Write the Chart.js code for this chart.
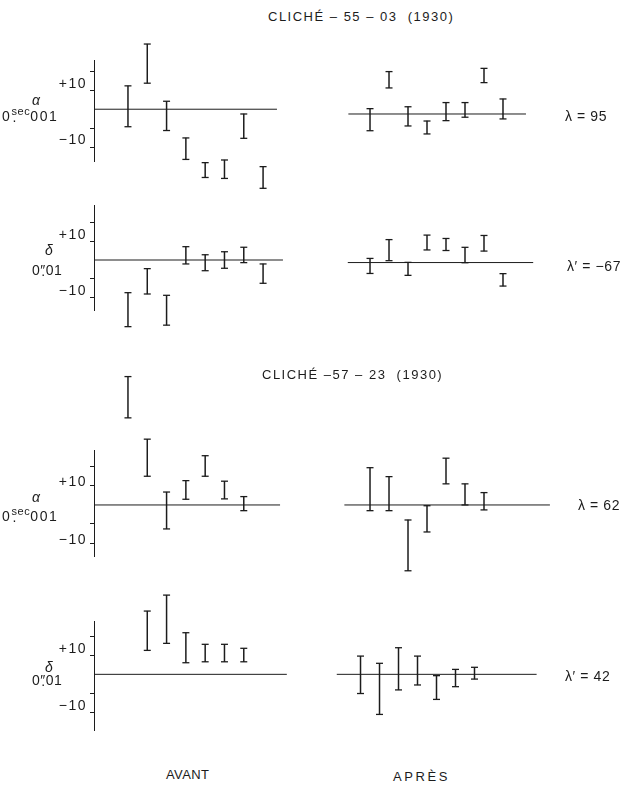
<!DOCTYPE html>
<html>
<head>
<meta charset="utf-8">
<script src="https://cdn.jsdelivr.net/npm/chart.js@4.4.0/dist/chart.umd.min.js"></script>
<style>
body { margin: 0; background: #fff; }
#page { position: relative; width: 624px; height: 786px; overflow: hidden; font-family: "Liberation Sans", Arial, sans-serif; color: #1c1c1c; }
#page canvas { position: absolute; left: 0; }
.t { position: absolute; white-space: nowrap; transform: translateY(-50%); font-size: 14px; line-height: 1; }
.title { font-size: 13px; letter-spacing: 1.5px; }
.tick { font-size: 14px; letter-spacing: 1.5px; text-align: right; width: 44px; }
.lab { font-size: 14px; letter-spacing: 1.6px; }
.lam { font-size: 14px; letter-spacing: 0.6px; }
.greek { font-size: 14px; font-style: italic; }
.dec { position: relative; display: inline-block; }
.up { font-size: 11px; letter-spacing: 0.6px; position: relative; top: -6px; }
.dot { position: absolute; left: 1px; top: 1px; }
</style>
</head>
<body>
<div id="page">
  <canvas id="c1" width="624" height="175" style="top:25px"></canvas>
  <canvas id="c2" width="624" height="150" style="top:200px"></canvas>
  <canvas id="c3" width="624" height="230" style="top:360px"></canvas>
  <canvas id="c4" width="624" height="150" style="top:590px"></canvas>

  <div class="t title" style="left:268px;top:16px">CLICHÉ – 55 – 03 &nbsp;(1930)</div>
  <div class="t title" style="left:262px;top:374px">CLICHÉ –57 – 23 &nbsp;(1930)</div>

  <div class="t tick" style="left:43px;top:83px">+10</div>
  <div class="t tick" style="left:43px;top:139px">−10</div>
  <div class="t greek" style="left:32px;top:100px">α</div>
  <div class="t lab" style="left:2px;top:116px">0<span class="dec"><span class="up">sec</span><span class="dot">.</span></span>001</div>

  <div class="t tick" style="left:43px;top:234px">+10</div>
  <div class="t tick" style="left:43px;top:290px">−10</div>
  <div class="t greek" style="left:45px;top:250px">δ</div>
  <div class="t lab" style="left:32px;top:270px;letter-spacing:0.5px">0<span class="dec">″<span class="dot">.</span></span>01</div>

  <div class="t tick" style="left:43px;top:481px">+10</div>
  <div class="t tick" style="left:43px;top:539px">−10</div>
  <div class="t greek" style="left:32px;top:497px">α</div>
  <div class="t lab" style="left:2px;top:516px">0<span class="dec"><span class="up">sec</span><span class="dot">.</span></span>001</div>

  <div class="t tick" style="left:43px;top:648px">+10</div>
  <div class="t tick" style="left:43px;top:705px">−10</div>
  <div class="t greek" style="left:45px;top:667px">δ</div>
  <div class="t lab" style="left:32px;top:680px;letter-spacing:0.5px">0<span class="dec">″<span class="dot">.</span></span>01</div>

  <div class="t lam" style="left:565px;top:116px">λ = 95</div>
  <div class="t lam" style="left:567px;top:266px">λ′ = −67</div>
  <div class="t lam" style="left:578px;top:505px">λ = 62</div>
  <div class="t lam" style="left:565px;top:676px">λ′ = 42</div>

  <div class="t" style="left:166px;top:774px;font-size:13px;letter-spacing:0.4px">AVANT</div>
  <div class="t" style="left:393px;top:776px;font-size:13px;letter-spacing:2.6px">APRÈS</div>
</div>

<script>
// slot number of each plate along the axis
var slots8 = [1, 2, 3, 4, 5, 6, 7, 8];
var slots7 = [1, 2, 3, 4, 5, 6, 7];
var slots2to7 = [2, 3, 4, 5, 6, 7];

// tick marks on the left axis
var yTicks = [-20, -10, 10, 20];

// cliche 55-03, alpha in 0.001 sec
var alpha5503AvantHi = [12.3, 34.3, 4.2, -15.1, -28.1, -26.7, -2.5, -30.2];
var alpha5503AvantLo = [-9.2, 13.7, -11.2, -26.4, -35.9, -36.4, -15.3, -41.6];
var alpha5503ApresHi = [2.8, 22.3, 3.8, -3.7, 6.0, 6.0, 24.0, 7.9];
var alpha5503ApresLo = [-8.8, 13.7, -6.3, -10.5, -3.5, -1.7, 16.5, -2.6];

// cliche 55-03, delta in 0.01"
var delta5503AvantHi = [-17.4, -4.6, -18.8, 7.1, 2.8, 4.4, 6.8, -2.1];
var delta5503AvantLo = [-35.5, -18.1, -34.7, -2.1, -5.7, -4.4, -1.4, -12.4];
var delta5503ApresHi = [2.2, 12.2, 0.1, 14.6, 12.8, 8.1, 14.4, -5.9];
var delta5503ApresLo = [-5.8, 1.0, -6.8, 6.7, 6.4, -0.1, 6.1, -12.5];

// cliche 57-23, alpha
var alpha5723AvantHi = [67.5, 34.6, 6.8, 12.8, 25.9, 12.5, 4.4];
var alpha5723AvantLo = [45.8, 15.1, -12.6, 3.0, 15.1, 3.2, -3.0];
var alpha5723ApresHi = [19.6, 14.9, -7.9, -0.4, 24.6, 11.1, 6.5];
var alpha5723ApresLo = [-3.0, -3.0, -34.6, -14.2, 11.1, 0.0, -2.6];

// cliche 57-23, delta
var delta5723AvantHi = [33.3, 41.7, 21.9, 15.8, 15.8, 13.7];
var delta5723AvantLo = [12.6, 16.3, 6.1, 6.6, 6.6, 6.6];
var delta5723ApresHi = [9.6, 5.8, 14.0, 9.6, -0.7, 2.6, 3.7];
var delta5723ApresLo = [-10.1, -21.1, -8.2, -5.6, -13.2, -6.5, -2.5];

var ink = '#1c1c1c';
var capHalf = 0.34;   // half height of the end caps, in axis units

function errorBars(slots, hi, lo, xId, yId)
{
    var bars = slots.map(function(s, i)
    {
        return { x: s, y: [lo[i], hi[i]] };
    });

    //little flat bars at both ends make the caps
    var caps = [];
    slots.forEach(function(s, i)
    {
        caps.push({ x: s, y: [hi[i] - capHalf, hi[i] + capHalf] });
        caps.push({ x: s, y: [lo[i] - capHalf, lo[i] + capHalf] });
    });

    return [
        {
            type: 'bar',
            data: bars,
            xAxisID: xId,
            yAxisID: yId,
            backgroundColor: ink,
            barThickness: 1.2,
            inflateAmount: 0.15,
            grouped: false,
            clip: false
        },
        {
            type: 'bar',
            data: caps,
            xAxisID: xId,
            yAxisID: yId,
            backgroundColor: ink,
            barThickness: 7,
            inflateAmount: 0,
            grouped: false,
            clip: false
        }
    ];
}

function zeroLine(from, to, xId, yId)
{
    return {
        type: 'line',
        data: [{ x: from, y: 0 }, { x: to, y: 0 }],
        xAxisID: xId,
        yAxisID: yId,
        borderColor: ink,
        borderWidth: 1,
        pointRadius: 0,
        clip: false
    };
}

function drawPanel(p)
{
    var ctx = document.getElementById(p.canvas).getContext('2d');

    var datasets = [
        zeroLine(-0.76, p.avantEnd, 'xa', 'y'),
        zeroLine(p.apresLine[0], p.apresLine[1], 'xp', 'yp')
    ];
    datasets = datasets.concat(errorBars(p.avantSlots, p.avantHi, p.avantLo, 'xa', 'y'));
    datasets = datasets.concat(errorBars(p.apresSlots, p.apresHi, p.apresLo, 'xp', 'yp'));

    new Chart(ctx,
    {
        type: 'bar',
        data: { datasets: datasets },
        options:
        {
            responsive: false,
            animation: false,
            layout: { padding: { top: p.padTop, bottom: p.padBottom, left: 0, right: 0 } },
            plugins:
            {
                legend: { display: false },
                tooltip: { enabled: false }
            },
            scales:
            {
                xa: { type: 'linear', display: false, offset: false, min: -0.76, max: 26.7 },
                xp: { type: 'linear', display: false, offset: false, min: p.apresMin, max: p.apresMin + 27.9 },
                y:
                {
                    type: 'linear',
                    position: 'left',
                    min: p.yMin,
                    max: p.yMax,
                    afterBuildTicks: function(scale)
                    {
                        scale.ticks = yTicks.map(function(v) { return { value: v }; });
                    },
                    afterFit: function(scale)
                    {
                        scale.width = 94;
                    },
                    ticks: { display: false },
                    grid: { drawOnChartArea: false, drawTicks: true, tickLength: 4, color: ink, lineWidth: 1 },
                    border: { display: true, color: ink, width: 1 }
                },
                yp: { type: 'linear', display: false, min: p.pMin, max: p.pMax }
            }
        }
    });
}

window.onload = function()
{
    drawPanel({
        canvas: 'c1', padTop: 35, padBottom: 38.3,
        yMin: -27.6, yMax: 25.9, pMin: -25.1, pMax: 28.4,
        apresMin: -13.53, avantEnd: 8.72, apresLine: [-0.14, 9.21],
        avantSlots: slots8, avantHi: alpha5503AvantHi, avantLo: alpha5503AvantLo,
        apresSlots: slots8, apresHi: alpha5503ApresHi, apresLo: alpha5503ApresLo
    });

    drawPanel({
        canvas: 'c2', padTop: 5, padBottom: 39.3,
        yMin: -27.0, yMax: 29.3, pMin: -25.6, pMax: 30.6,
        apresMin: -13.53, avantEnd: 9.03, apresLine: [-0.17, 9.59],
        avantSlots: slots8, avantHi: delta5503AvantHi, avantLo: delta5503AvantLo,
        apresSlots: slots8, apresHi: delta5503ApresHi, apresLo: delta5503ApresLo
    });

    drawPanel({
        canvas: 'c3', padTop: 90, padBottom: 33.3,
        yMin: -27.2, yMax: 28.9, pMin: -27.2, pMax: 28.9,
        apresMin: -13.53, avantEnd: 8.88, apresLine: [-0.35, 10.47],
        avantSlots: slots7, avantHi: alpha5723AvantHi, avantLo: alpha5723AvantLo,
        apresSlots: slots7, apresHi: alpha5723ApresHi, apresLo: alpha5723ApresLo
    });

    drawPanel({
        canvas: 'c4', padTop: 31.7, padBottom: 10,
        yMin: -29.3, yMax: 27.7, pMin: -29.3, pMax: 27.7,
        apresMin: -13.03, avantEnd: 9.23, apresLine: [-0.25, 10.27],
        avantSlots: slots2to7, avantHi: delta5723AvantHi, avantLo: delta5723AvantLo,
        apresSlots: slots7, apresHi: delta5723ApresHi, apresLo: delta5723ApresLo
    });
};
</script>
</body>
</html>
